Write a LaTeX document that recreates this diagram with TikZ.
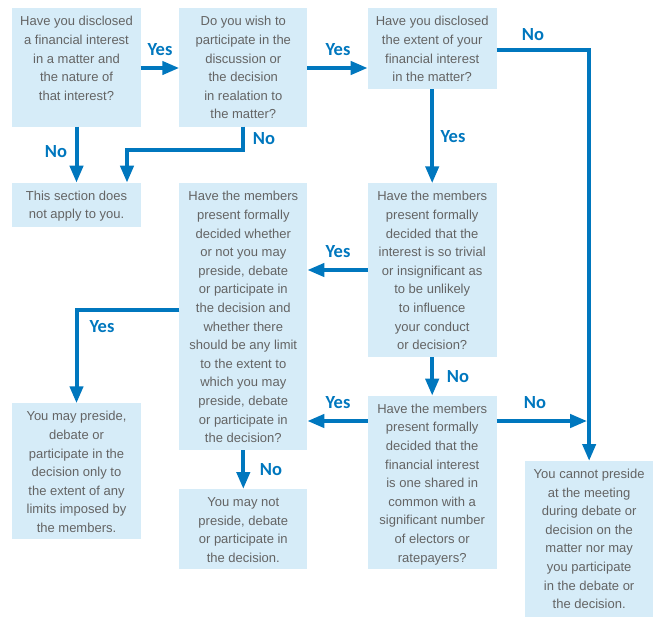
\documentclass[tikz,border=0pt]{standalone}
\usepackage{fontspec}
\setmainfont{Liberation Sans}
\newfontfamily\lblfont{Carlito}
\usetikzlibrary{arrows.meta}
\definecolor{boxfill}{RGB}{214,236,248}
\definecolor{lineblue}{RGB}{0,119,190}
\definecolor{textgray}{RGB}{100,100,100}
\newcommand\bxtext[3]{\begin{minipage}[t][#2][t]{#1}\centering\rule{0pt}{17.5pt}#3\end{minipage}}
\begin{document}
\begin{tikzpicture}[x=1pt,y=-1pt,
  qbox/.style={fill=boxfill, inner sep=0pt, outer sep=0pt, anchor=north west, text=textgray,
    font=\fontsize{13}{18.6}\selectfont},
  conn/.style={draw=lineblue, line width=4pt, -{Triangle[length=17pt,width=13pt]}},
  lbl/.style={text=lineblue, font=\lblfont\bfseries\fontsize{18.5}{20}\selectfont, inner sep=0pt}]
\useasboundingbox (0,0) rectangle (666,632);
\node[qbox] (a) at (12.3,8.3) {\bxtext{128.4pt}{118.4pt}{Have you disclosed\\a financial interest\\in a matter and\\the nature of\\that interest?}};
\node[qbox] (b) at (179.3,8.3) {\bxtext{128pt}{118.4pt}{Do you wish to\\participate in the\\discussion or\\the decision\\in realation to\\the matter?}};
\node[qbox] (c) at (367.7,8.3) {\bxtext{129pt}{80.7pt}{Have you disclosed\\the extent of your\\financial interest\\in the matter?}};
\node[qbox] (d) at (12.3,182.7) {\bxtext{128.4pt}{44pt}{This section does\\not apply to you.}};
\node[qbox] (e) at (179.3,183.3) {\bxtext{128pt}{266.7pt}{Have the members\\present formally\\decided whether\\or not you may\\preside, debate\\or participate in\\the decision and\\whether there\\should be any limit\\to the extent to\\which you may\\preside, debate\\or participate in\\the decision?}};
\node[qbox] (f) at (367.7,183.3) {\bxtext{129pt}{174pt}{Have the members\\present formally\\decided that the\\interest is so trivial\\or insignificant as\\to be unlikely\\to influence\\your conduct\\or decision?}};
\node[qbox] (g) at (367.7,395.7) {\bxtext{129pt}{173.6pt}{Have the members\\present formally\\decided that the\\financial interest\\is one shared in\\common with a\\significant number\\of electors or\\ratepayers?}};
\node[qbox] (h) at (12.3,403.3) {\bxtext{128.4pt}{136pt}{You may preside,\\debate or\\participate in the\\decision only to\\the extent of any\\limits imposed by\\the members.}};
\node[qbox] (i) at (179.3,489) {\bxtext{128pt}{80.3pt}{You may not\\preside, debate\\or participate in\\the decision.}};
\node[qbox] (j) at (525,461) {\bxtext{128.3pt}{155.7pt}{You cannot preside\\at the meeting\\during debate or\\decision on the\\matter nor may\\you participate\\in the debate or\\the decision.}};
\coordinate (bd) at (127,150);
\draw[conn] (a.east |- 0,68) -- (b.west |- 0,68);
\draw[conn] (b.east |- 0,68) -- (c.west |- 0,68);
\draw[conn] (c.east |- 0,50) -| (j.north);
\draw[conn] (c.south) -- (f.north);
\draw[conn] (a.south) -- (d.north);
\draw[conn] (b.south) |- (bd) -- (bd |- d.north);
\draw[conn] (f.west |- 0,270) -- (e.east |- 0,270);
\draw[conn] (e.west |- 0,310) -| (h.north);
\draw[conn] (f.south) -- (g.north);
\draw[conn] (g.west |- 0,421) -- (e.east |- 0,421);
\draw[conn] (g.east |- 0,421) -- ([xshift=-2pt]j.north |- 0,421);
\draw[conn] (e.south) -- (i.north);
\node[lbl] (l1) at (160,50) {Yes};
\node[lbl] (l2) at (338,50) {Yes};
\node[lbl] (l3) at (533,35) {No};
\node[lbl] (l4) at (453,137) {Yes};
\node[lbl] (l5) at (56,152) {No};
\node[lbl] (l6) at (264,139) {No};
\node[lbl] (l7) at (338,252) {Yes};
\node[lbl] (l8) at (102,327) {Yes};
\node[lbl] (l9) at (458,377) {No};
\node[lbl] (l10) at (338,403) {Yes};
\node[lbl] (l11) at (535,403) {No};
\node[lbl] (l12) at (271,470) {No};
\end{tikzpicture}
\end{document}
